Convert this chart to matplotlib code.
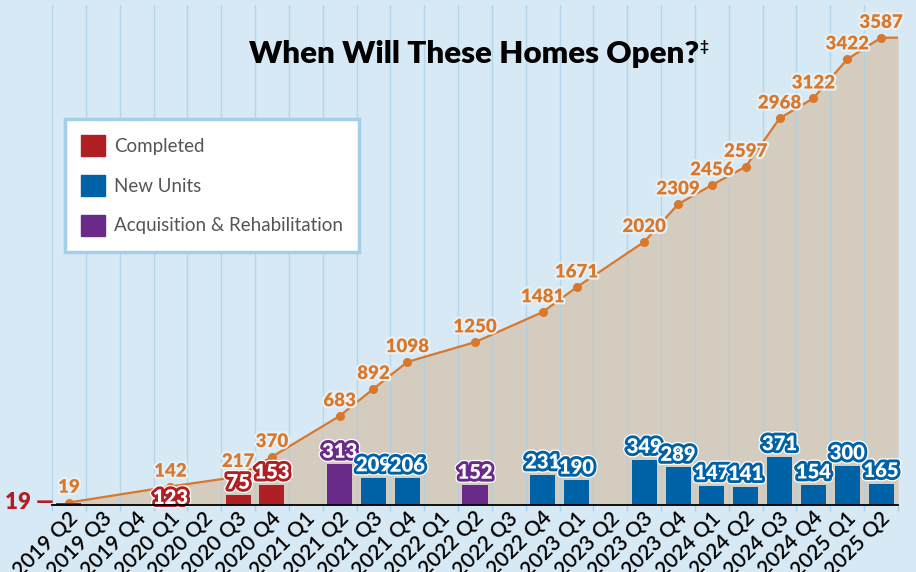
import matplotlib.pyplot as plt
import matplotlib.patheffects as pe
import matplotlib.transforms as mtransforms
from matplotlib.patches import Patch
import numpy as np

quarters = ['2019 Q2', '2019 Q3', '2019 Q4', '2020 Q1', '2020 Q2', '2020 Q3', '2020 Q4',
            '2021 Q1', '2021 Q2', '2021 Q3', '2021 Q4', '2022 Q1', '2022 Q2', '2022 Q3',
            '2022 Q4', '2023 Q1', '2023 Q2', '2023 Q3', '2023 Q4', '2024 Q1', '2024 Q2',
            '2024 Q3', '2024 Q4', '2025 Q1', '2025 Q2']
completed = [19, 0, 0, 123, 0, 75, 153, 0, 0, 0, 0, 0, 0, 0, 0, 0, 0, 0, 0, 0, 0, 0, 0, 0, 0]
new_units = [0, 0, 0, 0, 0, 0, 0, 0, 0, 209, 206, 0, 0, 0, 231, 190, 0, 349, 289, 147, 141,
             371, 154, 300, 165]
acq_rehab = [0, 0, 0, 0, 0, 0, 0, 0, 313, 0, 0, 0, 152, 0, 0, 0, 0, 0, 0, 0, 0, 0, 0, 0, 0]

BG = '#d7e9f4'
GRID = '#a8d0e8'
FILL = '#d5ccc0'
ORANGE = '#d9772b'
RED = '#b01f24'
BLUE = '#0062a6'
PURPLE = '#6a2a8a'
FONT = ['Lato', 'DejaVu Sans']

plt.rcParams['font.family'] = FONT

x = np.arange(len(quarters))
comp = np.array(completed)
new = np.array(new_units)
acq = np.array(acq_rehab)
total = comp + new + acq
cum = np.cumsum(total)
has = total > 0

fig = plt.figure(figsize=(9.16, 5.72), dpi=100, facecolor=BG)
ax = fig.add_axes([52 / 916, (572 - 505) / 572, 846 / 916, 500 / 572])
ax.set_facecolor(BG)
ax.set_xlim(-0.5, len(quarters) - 0.5)
ax.set_ylim(0, 3838)

# cumulative area, carried flat to the right edge
lx = np.append(x[has], len(quarters) - 0.5)
ly = np.append(cum[has], cum[-1])
ax.fill_between(lx, ly, 0, color=FILL, lw=0, zorder=1)

ax.set_xticks(np.arange(-0.5, len(quarters)), minor=True)
ax.grid(True, which='minor', axis='x', color=GRID, lw=1, alpha=0.75, zorder=1.5)
ax.grid(False, which='major')
ax.set_axisbelow(False)

ax.plot(lx, ly, color=ORANGE, lw=1.6, zorder=3)
ax.plot(x[has], cum[has], 'o', color=ORANGE, ms=5.5, zorder=3)

w = 0.74
ax.bar(x, comp, w, color=RED, zorder=4)
ax.bar(x, new, w, color=BLUE, zorder=4)
ax.bar(x, acq, w, color=PURPLE, zorder=4)

halo = [pe.Stroke(linewidth=3, foreground='#e8f1f6'), pe.Normal()]
for i in x[has]:
    ax.annotate(str(cum[i]), (i, cum[i]), xytext=(0, 11), textcoords='offset points',
                ha='center', va='center', fontsize=13.5, fontweight='heavy',
                color=ORANGE, path_effects=halo, zorder=5)

for i in x[has]:
    if i == 0:
        continue
    if comp[i]:
        c = RED
    elif new[i]:
        c = BLUE
    else:
        c = PURPLE
    dy = 2.5 if i != 3 else -13
    ax.annotate(str(total[i]), (i, total[i]), xytext=(0, dy), textcoords='offset points',
                ha='center', va='bottom', fontsize=14.5, fontweight='heavy', color='white',
                path_effects=[pe.Stroke(linewidth=6, foreground='white'),
                              pe.Stroke(linewidth=4.2, foreground=c), pe.Normal()],
                zorder=6)

ax.annotate(f'{completed[0]} —', (-0.5, completed[0]), xytext=(1, 0),
            textcoords='offset points', ha='right', va='center', fontsize=16,
            fontweight='heavy', color=RED, annotation_clip=False)

for s in ['left', 'right', 'top']:
    ax.spines[s].set_visible(False)
ax.spines['bottom'].set_color('black')
ax.spines['bottom'].set_linewidth(1.3)
ax.spines['bottom'].set_zorder(7)
ax.set_yticks([])
ax.set_xticks(x)
ax.set_xticklabels(quarters, rotation=45, ha='right', va='center',
                   rotation_mode='anchor', fontsize=15, fontweight='semibold')
ax.tick_params(axis='x', which='major', length=0, pad=0)
ax.tick_params(axis='x', which='minor', length=4, color=GRID, width=1)
off = mtransforms.ScaledTranslation(6 / 100, -10 / 100, fig.dpi_scale_trans)
for lab in ax.get_xticklabels():
    lab.set_transform(lab.get_transform() + off)

handles = [Patch(color=RED, label='Completed'),
           Patch(color=BLUE, label='New Units'),
           Patch(color=PURPLE, label='Acquisition & Rehabilitation')]
leg = fig.legend(handles=handles, loc='upper left', bbox_to_anchor=(65 / 916, 1 - 119 / 572),
                 bbox_transform=fig.transFigure, borderaxespad=0, fancybox=False,
                 frameon=True, framealpha=1, edgecolor='#a3cfe8', facecolor='white',
                 handlelength=1.3, handleheight=1.35, handletextpad=0.45,
                 labelspacing=1.0, borderpad=0.85,
                 prop={'family': FONT, 'size': 13.5, 'weight': 'normal'})
leg.get_frame().set_linewidth(2.5)
for t in leg.get_texts():
    t.set_color('#555555')

title = fig.text(474 / 916, 1 - 63 / 572, 'When Will These Homes Open?', ha='center',
                 va='baseline', fontsize=22.5, fontweight='heavy', color='black')
ax.annotate('‡', xy=(1, 1), xycoords=title, xytext=(0, 0), textcoords='offset points',
            ha='left', va='top', fontsize=11, fontweight='bold', color='black',
            annotation_clip=False)

fig.savefig('out.png', dpi=100, facecolor=BG)
